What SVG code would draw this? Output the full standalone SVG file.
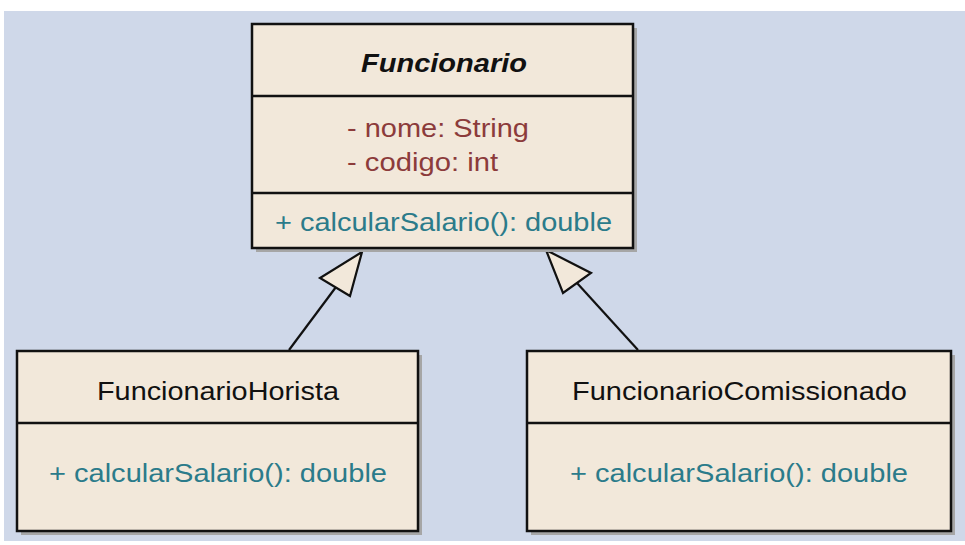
<svg xmlns="http://www.w3.org/2000/svg" width="965" height="545" viewBox="0 0 965 545">
<defs>
<style>
.bg{fill:#ffffff}
.canvas{fill:#cfd8e9}
.shadow{fill:#a6a6a6}
.box{fill:#f2e8da;stroke:#111111;stroke-width:2.5}
.div{stroke:#111111;stroke-width:2.5}
.t{font-family:"Liberation Sans",Arial,sans-serif;font-size:26px}
.title{fill:#111111}
.abs{font-weight:bold;font-style:italic}
.attr{fill:#8c3b3b}
.meth{fill:#2b7b8a}
.conn{stroke:#111111;stroke-width:2.2;fill:none}
.head{fill:#f2e8da;stroke:#111111;stroke-width:2.2;stroke-linejoin:miter}
</style>
</defs>
<rect class="bg" x="0" y="0" width="965" height="545"/>
<rect class="canvas" x="4" y="11" width="961" height="530"/>
<g id="connectors">
<line class="conn" x1="289" y1="350" x2="336" y2="287"/>
<polygon class="head" points="362,252 320,278 350,296"/>
<line class="conn" x1="638" y1="350" x2="577" y2="283"/>
<polygon class="head" points="546,250 591,273 563,293"/>
</g>
<g id="Funcionario">
<rect class="shadow" x="256" y="28" width="381" height="224"/>
<rect class="box" x="252" y="24" width="381" height="224"/>
<line class="div" x1="252" y1="96" x2="633" y2="96"/>
<line class="div" x1="252" y1="193" x2="633" y2="193"/>
<text class="t title abs" x="444" y="72" text-anchor="middle" textLength="166" lengthAdjust="spacingAndGlyphs">Funcionario</text>
<text class="t attr" x="347" y="137" textLength="182" lengthAdjust="spacingAndGlyphs">- nome: String</text>
<text class="t attr" x="347" y="171" textLength="151" lengthAdjust="spacingAndGlyphs">- codigo: int</text>
<text class="t meth" x="275" y="231" textLength="337" lengthAdjust="spacingAndGlyphs">+ calcularSalario(): double</text>
</g>
<g id="FuncionarioHorista">
<rect class="shadow" x="21" y="355" width="401" height="180"/>
<rect class="box" x="17" y="351" width="401" height="180"/>
<line class="div" x1="17" y1="423" x2="418" y2="423"/>
<text class="t title" x="97" y="400" textLength="242" lengthAdjust="spacingAndGlyphs">FuncionarioHorista</text>
<text class="t meth" x="49" y="482" textLength="338" lengthAdjust="spacingAndGlyphs">+ calcularSalario(): double</text>
</g>
<g id="FuncionarioComissionado">
<rect class="shadow" x="531" y="355" width="424" height="180"/>
<rect class="box" x="527" y="351" width="424" height="180"/>
<line class="div" x1="527" y1="423" x2="951" y2="423"/>
<text class="t title" x="572" y="400" textLength="335" lengthAdjust="spacingAndGlyphs">FuncionarioComissionado</text>
<text class="t meth" x="570" y="482" textLength="338" lengthAdjust="spacingAndGlyphs">+ calcularSalario(): double</text>
</g>
</svg>
